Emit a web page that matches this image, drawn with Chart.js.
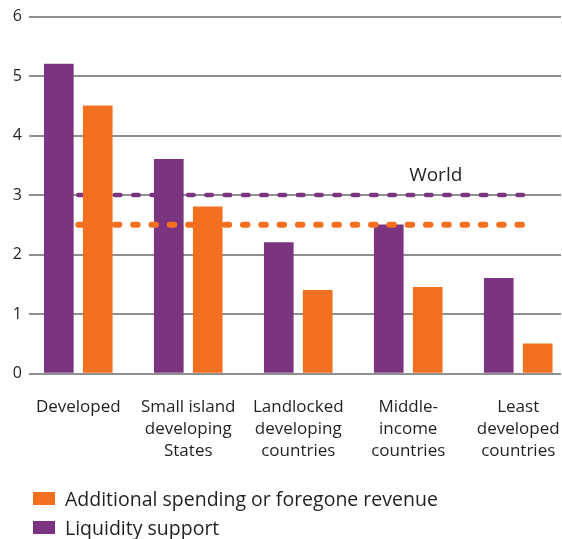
<!DOCTYPE html>
<html>
<head>
<meta charset="utf-8">
<script src="https://cdn.jsdelivr.net/npm/chart.js@4.4.0/dist/chart.umd.min.js"></script>
<style>
  body { margin: 0; background: #fff; }
  #wrap { position: relative; width: 562px; height: 539px; }
  #legend { position: absolute; left: 33px; top: 488px; font: 19.5px "Open Sans", sans-serif; color: #231f20; }
  .item { display: flex; align-items: center; height: 20px; margin-bottom: 9.5px; white-space: nowrap; }
  .swatch { display: inline-block; width: 22px; height: 13px; margin-right: 10px; }
</style>
</head>
<body>
<div id="wrap">
  <canvas id="chart" width="562" height="539"></canvas>
  <div id="legend"></div>
</div>
<script>
// Values per group of countries
const categories = [
  ['Developed'],
  ['Small island', 'developing', 'States'],
  ['Landlocked', 'developing', 'countries'],
  ['Middle-', 'income', 'countries'],
  ['Least', 'developed', 'countries']
];
const liquiditySupport = [5.2, 3.6, 2.2, 2.5, 1.6];
const additionalSpending = [4.5, 2.8, 1.4, 1.45, 0.5];
const worldLiquidity = 3;
const worldSpending = 2.5;
const worldLabel = 'World';
const yTicks = [0, 1, 2, 3, 4, 5, 6];

const PURPLE = '#7b347f';
const ORANGE = '#f37021';
const TEXT = '#231f20';
const FONT = '"Open Sans", sans-serif';

// x range of the group axis, and how far each bar sits from the group centre
const X_MIN = -0.448, X_MAX = 4.389;
const BAR_SHIFT = 0.177;
const WORLD_END = 4.08;

const toPoints = arr => arr.map((v, i) => ({ x: i, y: v }));
const worldLine = v => [{ x: 0, y: v }, { x: WORLD_END, y: v }];

// "World" caption above the dashed averages
const worldCaption = {
  id: 'worldCaption',
  afterDatasetsDraw(chart) {
    const { ctx, scales: { x, y } } = chart;
    ctx.save();
    ctx.font = '19px ' + FONT;
    ctx.fillStyle = TEXT;
    ctx.textAlign = 'center';
    ctx.textBaseline = 'alphabetic';
    ctx.fillText(worldLabel, x.getPixelForValue(3.25), y.getPixelForValue(worldLiquidity) - 14);
    ctx.restore();
  }
};

const datasets = [
  {
    type: 'bar',
    label: 'Liquidity support',
    data: toPoints(liquiditySupport),
    xAxisID: 'xLiq',
    backgroundColor: PURPLE,
    barThickness: 29,
    grouped: false,
    order: 3
  },
  {
    type: 'line',
    label: 'World liquidity',
    data: worldLine(worldLiquidity),
    xAxisID: 'x',
    borderColor: PURPLE,
    borderWidth: 4.5,
    borderDash: [5.5, 12.8],
    borderCapStyle: 'round',
    pointRadius: 0,
    order: 2
  },
  {
    type: 'line',
    label: 'World spending',
    data: worldLine(worldSpending),
    xAxisID: 'x',
    borderColor: ORANGE,
    borderWidth: 6,
    borderDash: [4.5, 13.8],
    borderCapStyle: 'round',
    pointRadius: 0,
    order: 2
  },
  {
    type: 'bar',
    label: 'Additional spending or foregone revenue',
    data: toPoints(additionalSpending),
    xAxisID: 'xSpend',
    backgroundColor: ORANGE,
    barThickness: 29,
    grouped: false,
    order: 1
  }
];

const hiddenAxis = (min, max) => ({ type: 'linear', display: false, bounds: 'data', offset: false, min, max });

new Chart(document.getElementById('chart'), {
  type: 'bar',
  data: { datasets },
  options: {
    responsive: false,
    animation: false,
    layout: { padding: { top: 16, right: 1, bottom: 70 } },
    plugins: { legend: { display: false }, tooltip: { enabled: false } },
    scales: {
      x: {
        type: 'linear',
        bounds: 'data',
        offset: false,
        min: X_MIN,
        max: X_MAX,
        grid: { display: false },
        border: { display: false },
        afterBuildTicks: s => { s.ticks = categories.map((c, i) => ({ value: i })); },
        afterFit: s => {
          s.height = 95.5;
          s.paddingLeft = 0;
          s.paddingRight = 0;
        },
        ticks: {
          autoSkip: false,
          maxRotation: 0,
          padding: 14,
          color: TEXT,
          font: { family: FONT, size: 17, lineHeight: 1.32 },
          callback: (v, i) => categories[i]
        }
      },
      xLiq: hiddenAxis(X_MIN + BAR_SHIFT, X_MAX + BAR_SHIFT),
      xSpend: hiddenAxis(X_MIN - BAR_SHIFT, X_MAX - BAR_SHIFT),
      y: {
        min: 0,
        max: 6,
        afterBuildTicks: s => { s.ticks = yTicks.map(v => ({ value: v })); },
        afterFit: s => { s.width = 29; },
        grid: { color: '#8f8f8f', lineWidth: 2, drawTicks: false },
        border: { display: false },
        ticks: { padding: 7, color: TEXT, font: { family: FONT, size: 16 } }
      }
    }
  },
  plugins: [worldCaption]
});

// legend: spending first, then liquidity
const legend = document.getElementById('legend');
[datasets[3], datasets[0]].forEach(ds => {
  const item = document.createElement('div');
  item.className = 'item';
  const sw = document.createElement('span');
  sw.className = 'swatch';
  sw.style.background = ds.backgroundColor;
  item.appendChild(sw);
  item.appendChild(document.createTextNode(ds.label));
  legend.appendChild(item);
});
</script>
</body>
</html>
